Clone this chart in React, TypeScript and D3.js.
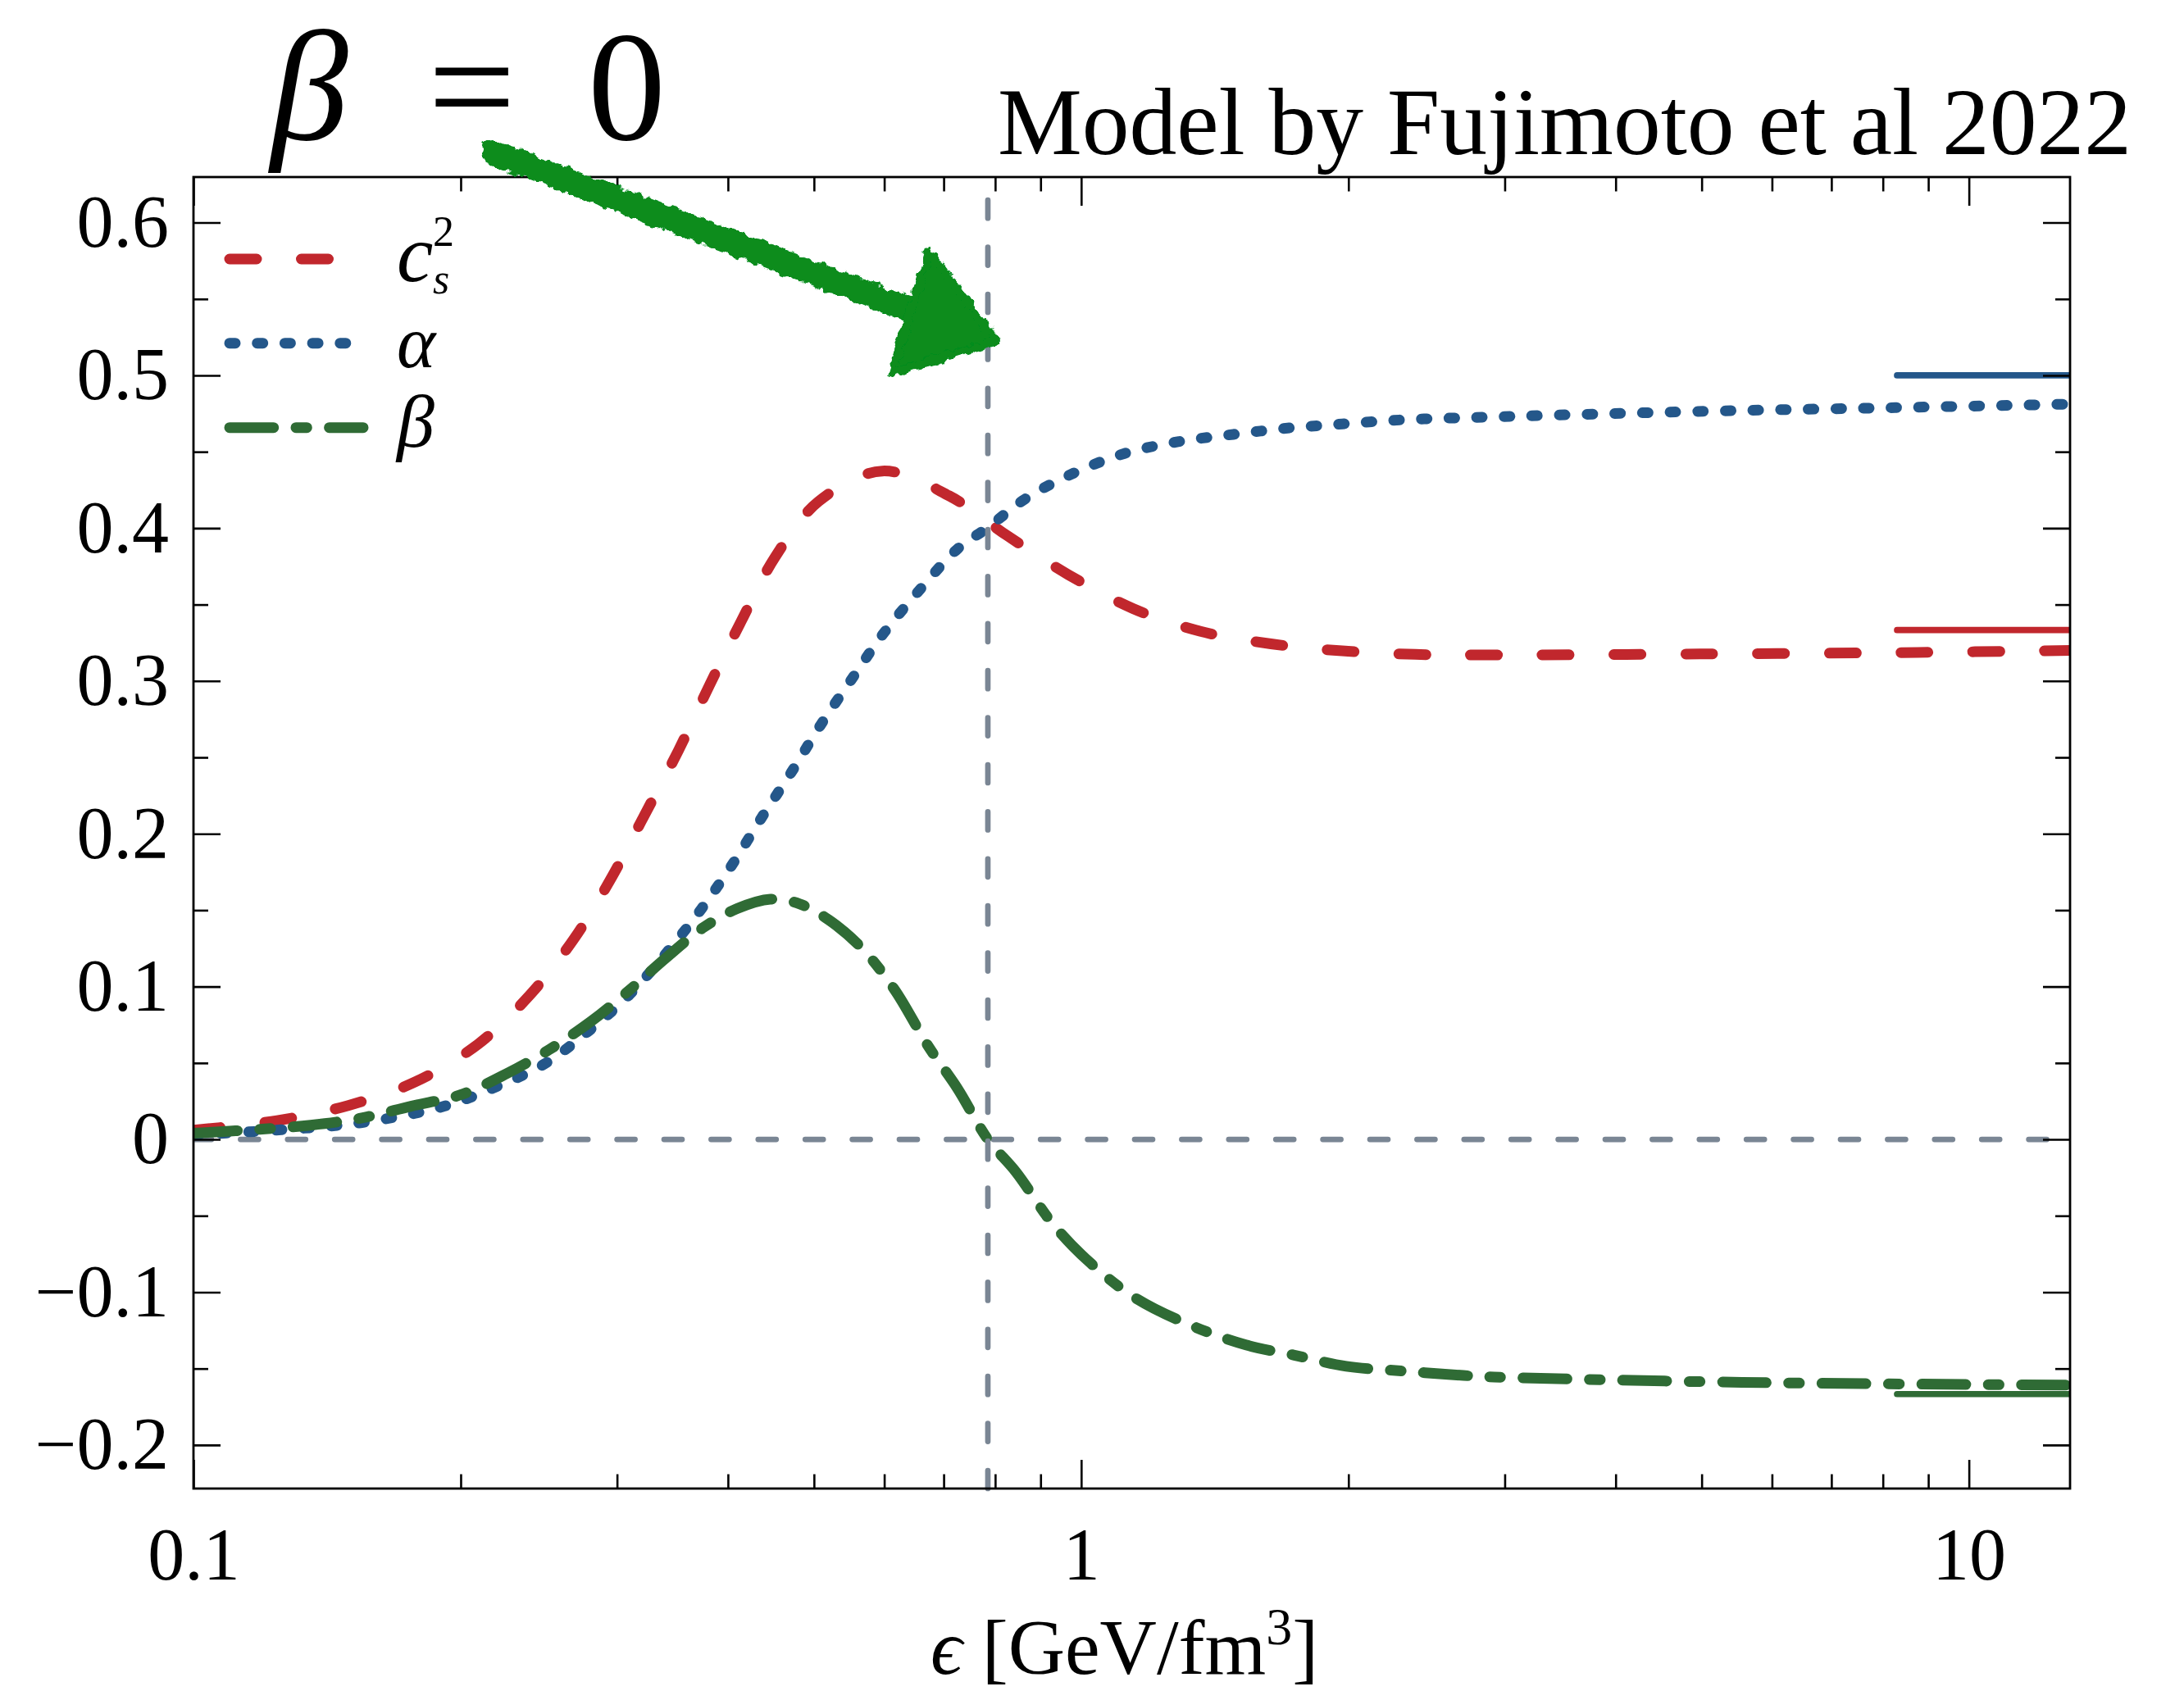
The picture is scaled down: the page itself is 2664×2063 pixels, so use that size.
import React, { useRef, useEffect } from 'react';
import * as d3 from 'd3';

const W = 2664;
const H = 2063;

// energy density eps [GeV/fm^3] and curve values
const epsCs2 = [0.1, 0.1242, 0.1494, 0.1777, 0.2091, 0.2393, 0.2684, 0.2958, 0.3226, 0.3518, 0.3815, 0.414, 0.4515, 0.506, 0.597, 0.71, 0.826, 0.967, 1.144, 1.36, 1.636, 1.968, 2.378, 2.86, 4.98, 8.75, 13];
const cs2 = [0.006, 0.0123, 0.0222, 0.0376, 0.0622, 0.0945, 0.1314, 0.1714, 0.2129, 0.2545, 0.2975, 0.3391, 0.3806, 0.4175, 0.4374, 0.4212, 0.395, 0.3696, 0.3474, 0.3326, 0.3243, 0.3197, 0.3174, 0.317, 0.3177, 0.3187, 0.32];

const epsAlpha = [0.1, 0.1256, 0.1543, 0.1916, 0.2183, 0.2486, 0.2787, 0.309, 0.3424, 0.3736, 0.405, 0.437, 0.4716, 0.5086, 0.5534, 0.597, 0.6579, 0.7258, 0.785, 0.863, 0.972, 1.119, 1.289, 1.484, 1.708, 1.968, 2.315, 2.78, 5.03, 8.26, 13];
const alpha = [0.003, 0.0063, 0.0109, 0.0217, 0.034, 0.0494, 0.0709, 0.094, 0.1233, 0.151, 0.1803, 0.211, 0.2403, 0.2711, 0.3025, 0.3301, 0.3597, 0.3865, 0.4004, 0.4188, 0.435, 0.4489, 0.4567, 0.4614, 0.4655, 0.4682, 0.471, 0.4725, 0.4765, 0.4789, 0.4812];

const epsBeta = [0.1, 0.1115, 0.1355, 0.1543, 0.1758, 0.2002, 0.2256, 0.2514, 0.2803, 0.309, 0.3405, 0.3755, 0.4096, 0.4467, 0.4819, 0.5186, 0.5653, 0.6166, 0.6727, 0.7258, 0.785, 0.8446, 0.931, 1.027, 1.157, 1.346, 1.533, 1.747, 1.989, 2.315, 2.695, 2.92, 5.55, 13];
const beta = [0.004, 0.0056, 0.0093, 0.0139, 0.0217, 0.0293, 0.0432, 0.0586, 0.0771, 0.0971, 0.1187, 0.1387, 0.151, 0.1572, 0.1541, 0.144, 0.1255, 0.0978, 0.0609, 0.0332, 0.0, -0.0214, -0.056, -0.0815, -0.1046, -0.123, -0.1345, -0.1415, -0.1485, -0.1517, -0.1545, -0.1555, -0.159, -0.1608];

// conformal limits shown as short solid lines at high density
const limitValues = [1 / 3, 0.5, -1 / 6];
const limitStart = 8.3;
const epsBetaZero = 0.785;

const yMajor = [-0.2, -0.1, 0, 0.1, 0.2, 0.3, 0.4, 0.5, 0.6];
const yMinor = [-0.15, -0.05, 0.05, 0.15, 0.25, 0.35, 0.45, 0.55];
const xMajor = [0.1, 1, 10];
const xMinor = [0.2, 0.3, 0.4, 0.5, 0.6, 0.7, 0.8, 0.9, 2, 3, 4, 5, 6, 7, 8, 9];

const colors = ['#c1272d', '#24578a', '#2f6b35'];
const dashes = ['33 54.5', '7 26.7', '53.7 27.3 13.3 27.3'];
const refGray = '#7a8694';
const arrowGreen = '#078c1e';
const serif = "'Liberation Serif', 'DejaVu Serif', serif";

const App: React.FC = () => {
  const svgRef = useRef<SVGSVGElement>(null);

  useEffect(() => {
    if (!svgRef.current) return;
    const svg = d3.select(svgRef.current);
    svg.selectAll('*').remove();

    const left = 236;
    const right = 2525;
    const top = 216;
    const bottom = 1816;

    const x = d3.scaleLog().domain([0.1, 13]).range([left, right]);
    const y = d3.scaleLinear().domain([-0.2285, 0.6298]).range([bottom, top]);

    svg.append('rect').attr('width', W).attr('height', H).attr('fill', '#fff');

    const defs = svg.append('defs');
    defs
      .append('clipPath')
      .attr('id', 'plot-clip')
      .append('rect')
      .attr('x', left)
      .attr('y', top)
      .attr('width', right - left)
      .attr('height', bottom - top);

    // rough "marker" look for the hand drawn arrow
    const rough = defs.append('filter').attr('id', 'rough').attr('x', '-10%').attr('y', '-10%').attr('width', '120%').attr('height', '120%');
    rough.append('feTurbulence').attr('type', 'fractalNoise').attr('baseFrequency', 0.1).attr('numOctaves', 2).attr('seed', 3).attr('result', 'noise');
    rough.append('feDisplacementMap').attr('in', 'SourceGraphic').attr('in2', 'noise').attr('scale', 12).attr('xChannelSelector', 'R').attr('yChannelSelector', 'G');

    const plot = svg.append('g').attr('clip-path', 'url(#plot-clip)');

    // reference lines
    plot
      .append('line')
      .attr('x1', left)
      .attr('x2', right)
      .attr('y1', y(0))
      .attr('y2', y(0))
      .attr('stroke', refGray)
      .attr('stroke-width', 6.7)
      .attr('stroke-dasharray', '22 35.4')
      .attr('stroke-linecap', 'round');

    svg
      .append('line')
      .attr('x1', x(epsBetaZero))
      .attr('x2', x(epsBetaZero))
      .attr('y1', bottom)
      .attr('y2', top - 2)
      .attr('stroke', refGray)
      .attr('stroke-width', 6.7)
      .attr('stroke-dasharray', '22 35.4')
      .attr('stroke-linecap', 'round');

    const line = d3
      .line<[number, number]>()
      .x((d) => x(d[0]))
      .y((d) => y(d[1]))
      .curve(d3.curveCatmullRom.alpha(0.5));

    const series: [number[], number[]][] = [
      [epsCs2, cs2],
      [epsAlpha, alpha],
      [epsBeta, beta],
    ];

    // conformal limits
    limitValues.forEach((v, i) => {
      plot
        .append('line')
        .attr('x1', x(limitStart))
        .attr('x2', right + 4)
        .attr('y1', y(v))
        .attr('y2', y(v))
        .attr('stroke', colors[i])
        .attr('stroke-width', 7.7)
        .attr('stroke-linecap', 'round');
    });

    series.forEach(([xs, ys], i) => {
      const pts = xs.map((e, k) => [e, ys[k]] as [number, number]);
      plot
        .append('path')
        .attr('d', line(pts))
        .attr('fill', 'none')
        .attr('stroke', colors[i])
        .attr('stroke-width', 13)
        .attr('stroke-linecap', 'round')
        .attr('stroke-linejoin', 'round')
        .attr('stroke-dasharray', dashes[i]);
    });

    // axes with inward ticks on all four sides
    const styleAxis = (g: d3.Selection<SVGGElement, unknown, null, undefined>) => {
      g.select('.domain').remove();
      g.selectAll('line').attr('stroke', '#000').attr('stroke-width', 2.6);
      g.selectAll('text')
        .attr('font-family', serif)
        .attr('font-size', 90)
        .attr('fill', '#000');
    };

    const yFmt = (d: d3.NumberValue) => (+d === 0 ? '0' : d3.format('.1f')(+d));

    svg
      .append('g')
      .attr('transform', `translate(${left},0)`)
      .call(d3.axisLeft(y).tickValues(yMajor).tickSize(-33).tickPadding(30).tickFormat(yFmt))
      .call(styleAxis);
    svg
      .append('g')
      .attr('transform', `translate(${left},0)`)
      .call(d3.axisLeft(y).tickValues(yMinor).tickSize(-18).tickFormat(() => ''))
      .call(styleAxis);
    svg
      .append('g')
      .attr('transform', `translate(${right},0)`)
      .call(d3.axisRight(y).tickValues(yMajor).tickSize(-33).tickFormat(() => ''))
      .call(styleAxis);
    svg
      .append('g')
      .attr('transform', `translate(${right},0)`)
      .call(d3.axisRight(y).tickValues(yMinor).tickSize(-18).tickFormat(() => ''))
      .call(styleAxis);

    svg
      .append('g')
      .attr('transform', `translate(0,${bottom})`)
      .call(d3.axisBottom(x).tickValues(xMajor).tickSize(-35).tickPadding(47).tickFormat((d) => String(+d)))
      .call(styleAxis);
    svg
      .append('g')
      .attr('transform', `translate(0,${bottom})`)
      .call(d3.axisBottom(x).tickValues(xMinor).tickSize(-17.5).tickFormat(() => ''))
      .call(styleAxis);
    svg
      .append('g')
      .attr('transform', `translate(0,${top})`)
      .call(d3.axisTop(x).tickValues(xMajor).tickSize(-35).tickFormat(() => ''))
      .call(styleAxis);
    svg
      .append('g')
      .attr('transform', `translate(0,${top})`)
      .call(d3.axisTop(x).tickValues(xMinor).tickSize(-17.5).tickFormat(() => ''))
      .call(styleAxis);

    svg
      .append('rect')
      .attr('x', left)
      .attr('y', top)
      .attr('width', right - left)
      .attr('height', bottom - top)
      .attr('fill', 'none')
      .attr('stroke', '#000')
      .attr('stroke-width', 2.8);

    // x axis label
    const xl = svg
      .append('text')
      .attr('x', 1135)
      .attr('y', 2042)
      .attr('font-family', serif)
      .attr('font-size', 96)
      .attr('fill', '#000');
    xl.append('tspan').attr('font-style', 'italic').text('\u03f5');
    xl.append('tspan').text(' [GeV/fm');
    xl.append('tspan').attr('font-size', 64).attr('dy', -36).text('3');
    xl.append('tspan').attr('dy', 36).text(']');

    // legend
    const legendY = [316, 418.7, 521.7];
    legendY.forEach((ly, i) => {
      svg
        .append('line')
        .attr('x1', 280)
        .attr('x2', 443)
        .attr('y1', ly)
        .attr('y2', ly)
        .attr('stroke', colors[i])
        .attr('stroke-width', 13)
        .attr('stroke-linecap', 'round')
        .attr('stroke-dasharray', dashes[i]);
    });
    const leg = svg.append('g').attr('font-family', serif).attr('fill', '#000');
    const cs = leg.append('text').attr('x', 484).attr('y', 343).attr('font-size', 100).attr('font-style', 'italic');
    cs.append('tspan').text('c');
    cs.append('tspan').attr('x', 528).attr('dy', 15).attr('font-size', 52).text('s');
    cs.append('tspan').attr('x', 528).attr('dy', -58).attr('font-size', 52).attr('font-style', 'normal').text('2');
    leg.append('text').attr('x', 484).attr('y', 448).attr('font-size', 90).attr('font-style', 'italic').text('\u03b1');
    leg.append('text').attr('x', 484).attr('y', 545).attr('font-size', 92).attr('font-style', 'italic').text('\u03b2');

    // titles
    const t = svg.append('g').attr('font-family', serif).attr('fill', '#000').attr('font-size', 190);
    t.append('text').attr('x', 330).attr('y', 170).attr('font-style', 'italic').text('\u03b2');
    t.append('text').attr('x', 522).attr('y', 170).text('=');
    t.append('text').attr('x', 717).attr('y', 170).text('0');

    svg
      .append('text')
      .attr('x', 1217)
      .attr('y', 188)
      .attr('font-family', serif)
      .attr('font-size', 116)
      .attr('textLength', 1383)
      .attr('lengthAdjust', 'spacingAndGlyphs')
      .attr('fill', '#000')
      .text('Model by Fujimoto et al 2022');

    // hand drawn arrow pointing at the beta = 0 crossing
    const arrow = svg.append('g').attr('filter', 'url(#rough)').attr('fill', arrowGreen).attr('stroke', arrowGreen);
    arrow
      .append('line')
      .attr('x1', 602)
      .attr('y1', 186)
      .attr('x2', 1110)
      .attr('y2', 378)
      .attr('stroke-width', 30)
      .attr('stroke-linecap', 'round');
    arrow
      .append('polygon')
      .attr('points', '1133,307 1088,455 1215,416')
      .attr('stroke-width', 10)
      .attr('stroke-linejoin', 'round');
  }, []);

  return (
    <div style={{ position: 'absolute', left: 0, top: 0 }}>
      <svg ref={svgRef} width={W} height={H} style={{ display: 'block' }} />
    </div>
  );
};

export default App;
